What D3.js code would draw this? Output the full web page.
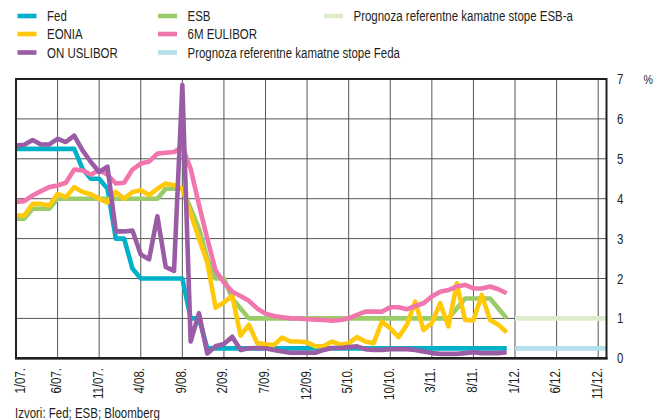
<!DOCTYPE html>
<html>
<head>
<meta charset="utf-8">
<script src="https://cdn.jsdelivr.net/npm/d3@7"></script>
<style>
  html, body { margin: 0; padding: 0; background: #fff; }
  svg { display: block; }
  text { font-family: "Liberation Sans", Arial, sans-serif; fill: #231f20; }
</style>
</head>
<body>
<svg id="chart" width="654" height="420"></svg>
<script>
// ---- Data (monthly, Jan 2007 = month 0) ----
const tickMonths = [0,5,10,15,20,25,30,35,40,45,50,55,60,65,70];
const tickLabels = ["1/07.","6/07.","11/07.","4/08.","9/08.","2/09.","7/09.","12/09.","5/10.","10/10.","3/11.","8/11.","1/12.","6/12.","11/12."];
const yTicks = [0,1,2,3,4,5,6,7];

const fed = [5.25,5.25,5.25,5.25,5.25,5.25,5.25,5.25,4.75,4.5,4.5,4.25,3.0,3.0,2.25,2.0,2.0,2.0,2.0,2.0,2.0,1.0,1.0,
  0.25,0.25,0.25,0.25,0.25,0.25,0.25,0.25,0.25,0.25,0.25,0.25,0.25,0.25,0.25,0.25,0.25,0.25,0.25,0.25,0.25,0.25,0.25,0.25,0.25,0.25,0.25,0.25,0.25,0.25,0.25,0.25,0.25,0.25,0.25,0.25,0.25];
const esb = [3.5,3.5,3.75,3.75,3.75,4.0,4.0,4.0,4.0,4.0,4.0,4.0,4.0,4.0,4.0,4.0,4.0,4.0,4.25,4.25,4.25,3.75,3.25,2.5,2.0,2.0,1.5,1.25,
  1.0,1.0,1.0,1.0,1.0,1.0,1.0,1.0,1.0,1.0,1.0,1.0,1.0,1.0,1.0,1.0,1.0,1.0,1.0,1.0,1.0,1.0,1.0,1.0,1.0,1.25,1.5,1.5,1.5,1.5,1.25,1.0];
const eonia = [3.58,3.58,3.87,3.87,3.83,4.12,4.04,4.29,4.17,4.11,4.0,3.9,4.17,4.0,4.17,4.21,4.09,4.25,4.38,4.34,4.25,3.63,3.0,2.4,1.27,1.4,1.56,0.57,0.84,0.38,
  0.35,0.33,0.52,0.42,0.42,0.4,0.3,0.31,0.42,0.34,0.38,0.53,0.42,0.38,0.92,0.75,0.53,0.84,1.42,0.71,0.88,1.38,0.8,1.88,0.96,0.95,1.59,0.96,0.84,0.65];
const euribor6m = [3.92,3.94,4.08,4.19,4.29,4.33,4.4,4.73,4.71,4.6,4.72,4.6,4.38,4.4,4.73,4.88,4.93,5.13,5.15,5.17,5.3,4.75,3.85,3.0,2.2,1.9,1.67,1.56,1.44,1.25,
  1.12,1.06,1.03,1.0,1.0,0.98,0.97,0.96,0.94,0.96,1.0,1.09,1.17,1.17,1.17,1.28,1.28,1.23,1.31,1.38,1.55,1.67,1.71,1.8,1.84,1.75,1.75,1.8,1.73,1.63];
const onUsLibor = [5.33,5.35,5.47,5.36,5.36,5.5,5.42,5.58,5.21,4.92,4.67,4.8,3.18,3.18,3.2,2.6,2.48,3.56,2.29,2.19,6.85,0.42,1.13,0.12,0.3,0.36,0.54,0.21,0.25,0.26,
  0.25,0.21,0.17,0.14,0.14,0.14,0.14,0.21,0.26,0.26,0.28,0.3,0.23,0.21,0.21,0.23,0.23,0.23,0.21,0.17,0.13,0.11,0.11,0.11,0.13,0.15,0.13,0.13,0.13,0.15];
const forecastMonths = [60, 71];
const esbForecast = [1.0, 1.0];
const fedForecast = [0.25, 0.25];

const colors = {
  fed: "#00b1c9", eonia: "#ffc90a", libor: "#9b5ca6", esb: "#9bcc6a",
  euribor: "#f176ad", esbF: "#ddeccd", fedF: "#b3e0ea"
};

// ---- Layout ----
const svg = d3.select("#chart");
const L = 16, R = 606.5, T = 79, B = 358.3;
const SX = 0.82; // condensed type
const x = d3.scaleLinear().domain([0, 71]).range([L, R]);
const y = d3.scaleLinear().domain([0, 7]).range([B, T]);

// gridlines
const grid = svg.append("g");
grid.selectAll("line.h").data(yTicks).join("line")
  .attr("x1", L).attr("x2", R).attr("y1", d => y(d)).attr("y2", d => y(d))
  .attr("stroke", "#555").attr("stroke-width", 1);
grid.selectAll("line.v").data(tickMonths).join("line")
  .attr("x1", d => x(d)).attr("x2", d => x(d)).attr("y1", T).attr("y2", B)
  .attr("stroke", "#555").attr("stroke-width", 1);

// lines
const line = d3.line().x(d => x(d[0])).y(d => y(d[1]));
function series(vals, color, months = null) {
  const pts = vals.map((v, i) => [months ? months[i] : i, v]);
  svg.append("path").datum(pts).attr("d", line)
    .attr("fill", "none").attr("stroke", color).attr("stroke-width", 4.6)
    .attr("stroke-linejoin", "round").attr("stroke-linecap", "butt");
}
series(esbForecast, colors.esbF, forecastMonths);
series(fedForecast, colors.fedF, forecastMonths);
series(fed, colors.fed);
series(esb, colors.esb);
series(eonia, colors.eonia);
series(euribor6m, colors.euribor);
series(onUsLibor, colors.libor);

// frame
svg.append("rect").attr("x", L).attr("y", T).attr("width", R - L).attr("height", B - T)
  .attr("fill", "none").attr("stroke", "#231f20").attr("stroke-width", 2);
svg.append("line").attr("x1", L - 1).attr("x2", R + 1).attr("y1", B).attr("y2", B)
  .attr("stroke", "#231f20").attr("stroke-width", 2.6);

// x tick labels (rotated)
svg.append("g").selectAll("text").data(tickMonths).join("text")
  .attr("transform", d => `translate(${Math.max(x(d) - 1.5, 20)},368) rotate(-90) scale(${SX},1)`)
  .attr("text-anchor", "end").attr("dy", "0.36em")
  .style("font-size", "14px")
  .text((d, i) => tickLabels[i]);

// y tick labels
svg.append("g").selectAll("text").data(yTicks).join("text")
  .attr("transform", d => `translate(617,${y(d)}) scale(${SX},1)`)
  .attr("dy", "0.36em")
  .style("font-size", "14px")
  .text(d => d);
svg.append("text").attr("transform", `translate(643.5,${y(7)}) scale(${SX},1)`).attr("dy", "0.36em")
  .style("font-size", "13px").text("%");

// legend
const legend = [
  { label: "Fed", color: colors.fed, col: 0, row: 0 },
  { label: "EONIA", color: colors.eonia, col: 0, row: 1 },
  { label: "ON USLIBOR", color: colors.libor, col: 0, row: 2 },
  { label: "ESB", color: colors.esb, col: 1, row: 0 },
  { label: "6M EULIBOR", color: colors.euribor, col: 1, row: 1 },
  { label: "Prognoza referentne kamatne stope Feda", color: colors.fedF, col: 1, row: 2 },
  { label: "Prognoza referentne kamatne stope ESB-a", color: colors.esbF, col: 2, row: 0 }
];
const colX = [17.5, 158, 324];
const rowY = [16, 34, 52.5];
const lg = svg.append("g").selectAll("g").data(legend).join("g")
  .attr("transform", d => `translate(${colX[d.col]},${rowY[d.row]})`);
lg.append("rect").attr("x", 0).attr("y", -2.3).attr("width", 19).attr("height", 4.6)
  .attr("fill", d => d.color);
lg.append("text").attr("transform", `translate(29.5,0) scale(${SX},1)`)
  .attr("dy", "0.36em").style("font-size", "14px").text(d => d.label);

// source
svg.append("text").attr("transform", `translate(15,418) scale(${SX},1)`).style("font-size", "14px")
  .text("Izvori: Fed; ESB; Bloomberg");
</script>
</body>
</html>
